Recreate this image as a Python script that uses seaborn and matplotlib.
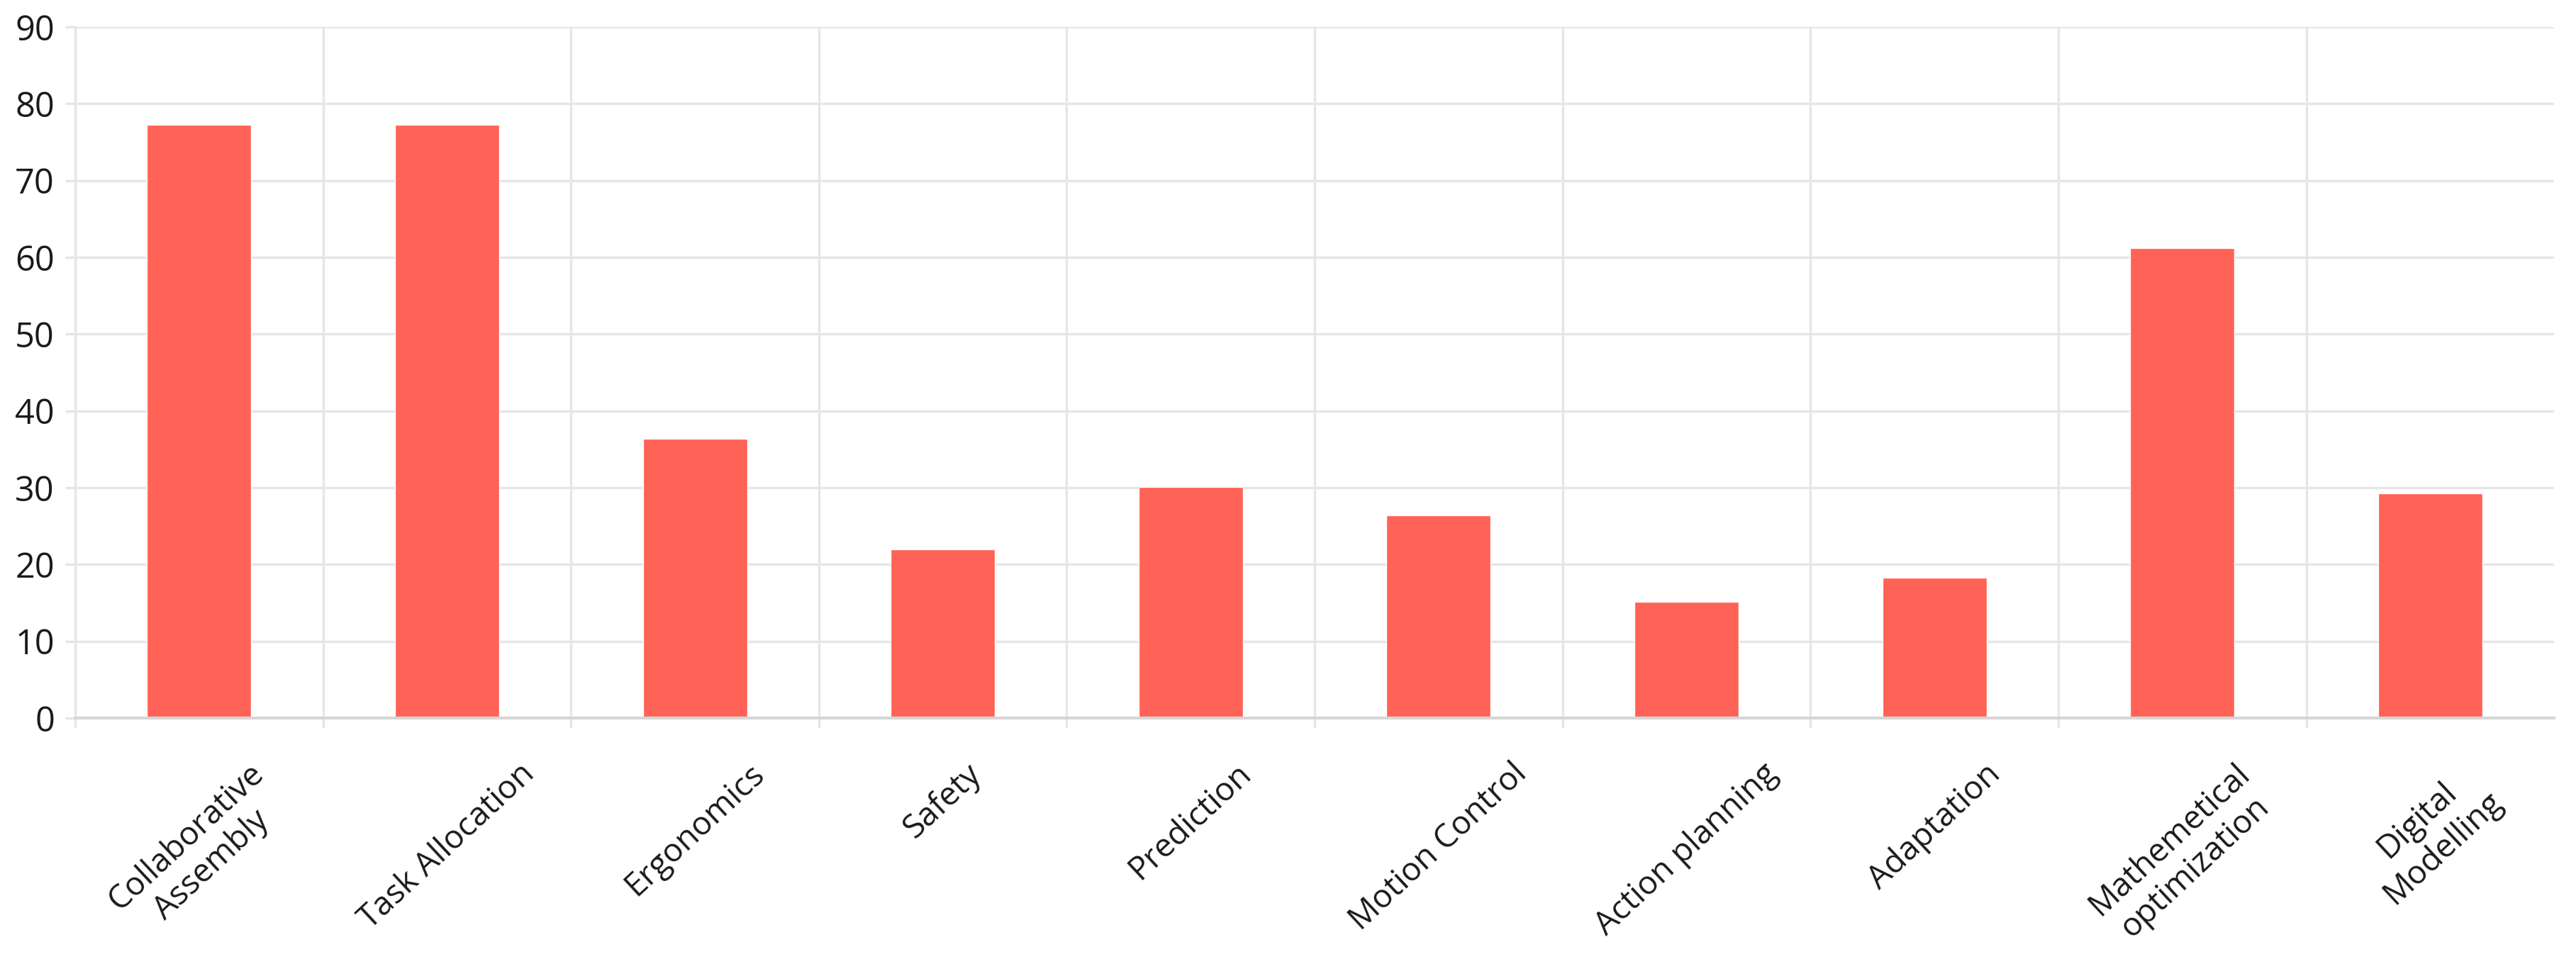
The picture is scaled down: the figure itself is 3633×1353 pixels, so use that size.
import numpy as np
import matplotlib
matplotlib.use("Agg")
import matplotlib.pyplot as plt
import seaborn as sns
from matplotlib.ticker import FixedLocator

categories = ["Collaborative\nAssembly", "Task Allocation", "Ergonomics", "Safety",
              "Prediction", "Motion Control", "Action planning", "Adaptation",
              "Mathemetical\noptimization", "Digital\nModelling"]
values = [77.3, 77.3, 36.4, 22.0, 30.1, 26.4, 15.1, 18.3, 61.2, 29.3]
yticks = list(range(0, 91, 10))

BAR = "#FF6257"
GRID = "#E6E6E6"
AXIS = "#D6D6D6"

sns.set_theme(style="white")
plt.rcParams["font.family"] = ["Open Sans", "DejaVu Sans"]

fig = plt.figure(figsize=(36.33, 13.53), dpi=100)
ax = fig.add_axes([0.0292, 0.2513, 0.9623, 0.7206])

sns.barplot(x=categories, y=values, color=BAR, width=0.42, saturation=1, ax=ax)

ax.set_xlim(-0.5, len(categories) - 0.5)
ax.set_ylim(0, 90)
ax.set_yticks(yticks)
ax.set_ylabel("")
ax.set_xlabel("")

# gridlines: horizontal at y ticks, vertical at category boundaries
ax.yaxis.grid(True, color=GRID, linewidth=2.4)
ax.xaxis.set_minor_locator(FixedLocator(np.arange(-0.5, len(categories) - 1, 1.0)))
ax.xaxis.grid(True, which="minor", color=GRID, linewidth=2.4)
ax.xaxis.grid(False, which="major")
ax.set_axisbelow(True)

for s in ["top", "right"]:
    ax.spines[s].set_visible(False)
ax.spines["left"].set_color(GRID)
ax.spines["left"].set_linewidth(2.4)
ax.spines["bottom"].set_color(AXIS)
ax.spines["bottom"].set_linewidth(3)

ax.tick_params(axis="y", which="major", length=10, width=2.4, color=GRID,
               labelsize=35, labelcolor="#1a1a1a", pad=11, left=True)
ax.tick_params(axis="x", which="minor", length=10, width=2.4, color=GRID, bottom=True)
ax.tick_params(axis="x", which="major", length=0, labelsize=33, labelcolor="#1a1a1a", pad=40)
plt.setp(ax.get_xticklabels(), rotation=43, ha="center", va="top", rotation_mode="default")

fig.savefig("out.png", dpi=100, facecolor="white")
